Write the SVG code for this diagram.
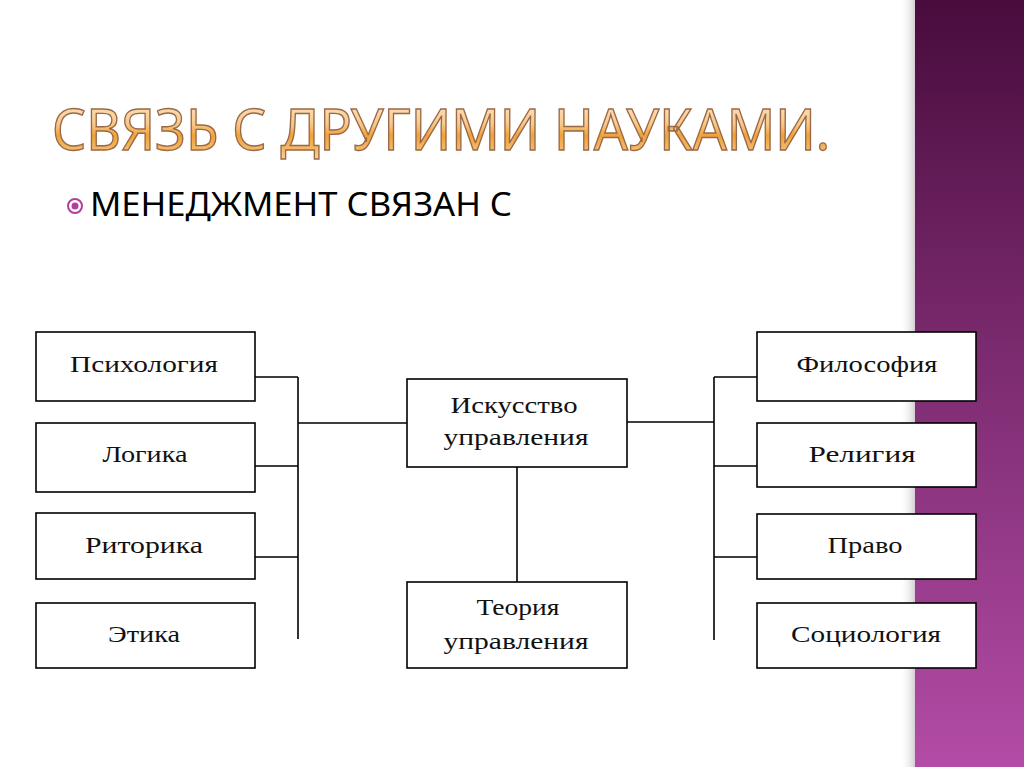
<svg xmlns="http://www.w3.org/2000/svg" width="1024" height="767" viewBox="0 0 1024 767">
<defs>
<linearGradient id="band" x1="0" y1="0" x2="0" y2="1">
<stop offset="0" stop-color="#480c3c"/>
<stop offset="0.45" stop-color="#7a2a6e"/>
<stop offset="1" stop-color="#b34ca6"/>
</linearGradient>
<linearGradient id="shade" x1="0" y1="0" x2="1" y2="0">
<stop offset="0" stop-color="#ffffff" stop-opacity="0"/>
<stop offset="1" stop-color="#c8c0c8" stop-opacity="0.8"/>
</linearGradient>
<linearGradient id="title" x1="0" y1="0" x2="0" y2="1">
<stop offset="0" stop-color="#fff0dc"/>
<stop offset="0.45" stop-color="#f8c88a"/>
<stop offset="0.6" stop-color="#f0a238"/>
<stop offset="0.8" stop-color="#f5bc70"/>
<stop offset="1" stop-color="#fbe2c0"/>
</linearGradient>
<style>
.box{fill:#fff;stroke:#000;stroke-width:1.6}
.lbl{font-family:"Liberation Serif","DejaVu Serif",serif;font-size:24px;fill:#111;text-anchor:middle}
.ln{stroke:#000;stroke-width:1.6;fill:none}
</style>
</defs>
<rect width="1024" height="767" fill="#fff"/>
<rect x="900" y="0" width="15" height="767" fill="url(#shade)"/>
<rect x="915" y="0" width="109" height="767" fill="url(#band)"/>

<text x="52" y="150" font-family="'Noto Sans','DejaVu Sans',sans-serif" font-size="56" fill="url(#title)" stroke="#9a6a48" stroke-width="1.4" textLength="778" lengthAdjust="spacingAndGlyphs">СВЯЗЬ С ДРУГИМИ НАУКАМИ.</text>

<circle cx="75" cy="206" r="7" fill="none" stroke="#b0409a" stroke-width="2"/>
<circle cx="75" cy="206" r="3.5" fill="#b0409a"/>
<text x="90" y="216" font-family="'Noto Sans','DejaVu Sans',sans-serif" font-size="32" fill="#000" textLength="422" lengthAdjust="spacingAndGlyphs">МЕНЕДЖМЕНТ СВЯЗАН С</text>

<g id="connectors">
<path class="ln" d="M255 377H298M255 466H298M255 557H298M298 377V639M298 423H407"/>
<path class="ln" d="M627 422H714M714 377V640M714 377H757M714 466H757M714 557H757"/>
<path class="ln" d="M517 467V582"/>
</g>

<g id="psych"><rect class="box" x="36" y="332" width="219" height="69"/><text class="lbl" x="144" y="372" textLength="148" lengthAdjust="spacingAndGlyphs">Психология</text></g>
<g id="logic"><rect class="box" x="36" y="423" width="219" height="69"/><text class="lbl" x="145" y="462" textLength="85" lengthAdjust="spacingAndGlyphs">Логика</text></g>
<g id="rhet"><rect class="box" x="36" y="513" width="219" height="66"/><text class="lbl" x="144" y="553" textLength="118" lengthAdjust="spacingAndGlyphs">Риторика</text></g>
<g id="ethics"><rect class="box" x="36" y="603" width="219" height="65"/><text class="lbl" x="144" y="642" textLength="72" lengthAdjust="spacingAndGlyphs">Этика</text></g>

<g id="art"><rect class="box" x="407" y="379" width="220" height="88"/><text class="lbl" x="514" y="413" textLength="127" lengthAdjust="spacingAndGlyphs">Искусство</text><text class="lbl" x="516" y="445" textLength="145" lengthAdjust="spacingAndGlyphs">управления</text></g>
<g id="theory"><rect class="box" x="407" y="582" width="220" height="86"/><text class="lbl" x="518" y="615" textLength="83" lengthAdjust="spacingAndGlyphs">Теория</text><text class="lbl" x="516" y="649" textLength="145" lengthAdjust="spacingAndGlyphs">управления</text></g>

<g id="philo"><rect class="box" x="757" y="332" width="219" height="69"/><text class="lbl" x="867" y="372" textLength="141" lengthAdjust="spacingAndGlyphs">Философия</text></g>
<g id="relig"><rect class="box" x="757" y="423" width="219" height="64"/><text class="lbl" x="862" y="462" textLength="107" lengthAdjust="spacingAndGlyphs">Религия</text></g>
<g id="law"><rect class="box" x="757" y="514" width="219" height="65"/><text class="lbl" x="865" y="553" textLength="75" lengthAdjust="spacingAndGlyphs">Право</text></g>
<g id="socio"><rect class="box" x="757" y="603" width="219" height="65"/><text class="lbl" x="866" y="642" textLength="150" lengthAdjust="spacingAndGlyphs">Социология</text></g>
</svg>
